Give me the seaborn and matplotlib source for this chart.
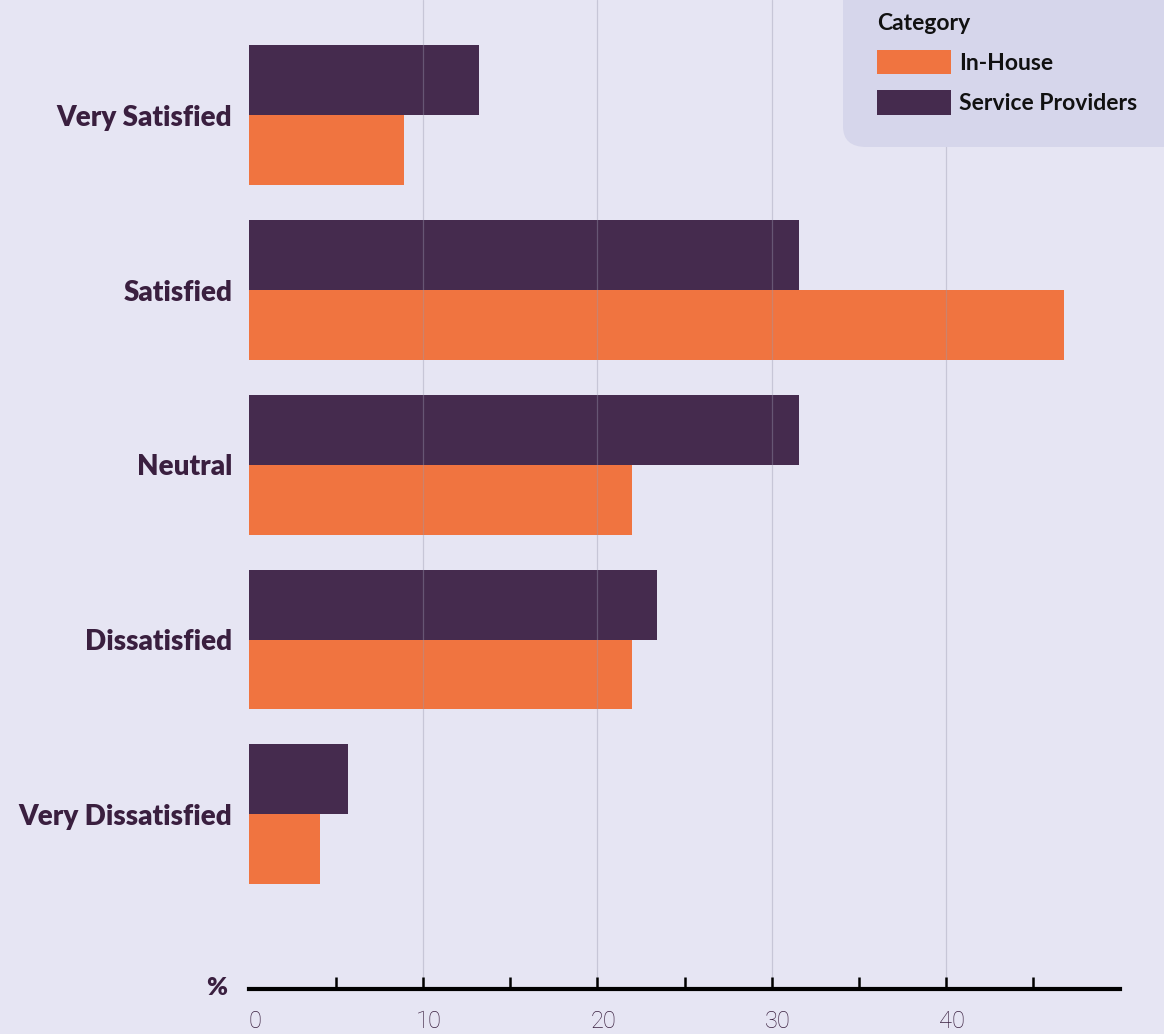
import matplotlib
matplotlib.use("Agg")
import matplotlib.pyplot as plt
from matplotlib.patches import FancyBboxPatch, Patch
from matplotlib.transforms import ScaledTranslation
import pandas as pd
import seaborn as sns

# Satisfaction levels and shares (%) for each group
levels = ["Very Satisfied", "Satisfied", "Neutral", "Dissatisfied", "Very Dissatisfied"]
in_house = [8.9, 46.8, 22.0, 22.0, 4.1]
service_providers = [13.2, 31.6, 31.6, 23.4, 5.7]
groups = ["In-House", "Service Providers"]
x_ticks = [0, 10, 20, 30, 40]
x_minor = [5, 15, 25, 35, 45]

BG = "#E6E5F3"
ORANGE = "#F07440"
PURPLE = "#452B4E"
TEXT = "#3A1F3F"

df = pd.DataFrame({
    "Level": levels * 2,
    "Share": in_house + service_providers,
    "Category": [groups[0]] * len(levels) + [groups[1]] * len(levels),
})

sns.set_theme(style="white")
plt.rcParams["font.family"] = ["Lato", "DejaVu Sans"]

fig = plt.figure(figsize=(11.64, 10.34), dpi=100, facecolor=BG)
ax = fig.add_axes([249 / 1164, 45 / 1034, 871 / 1164, 989 / 1034])
ax.set_facecolor(BG)

sns.barplot(
    data=df, y="Level", x="Share", hue="Category",
    order=levels, hue_order=["Service Providers", "In-House"],
    palette={"In-House": ORANGE, "Service Providers": PURPLE},
    orient="h", width=0.8, saturation=1, ax=ax, legend=False,
    linewidth=0,
)

ax.set_xlim(0, 50)
ax.set_ylim(5.0, -0.66)
ax.set_xticks(x_ticks)
ax.set_xticks(x_minor, minor=True)
ax.set_xticklabels([str(v) for v in x_ticks], fontsize=17, fontweight="light",
                   color=TEXT, family=["Roboto", "DejaVu Sans"])
ax.tick_params(axis="x", which="both", direction="in", length=9, width=1.8,
               color="black", pad=15, bottom=True)
ax.tick_params(axis="y", length=0, pad=12)
for lbl in ax.get_yticklabels():
    lbl.set_fontsize(20)
    lbl.set_fontweight("heavy")
    lbl.set_color(TEXT)

# nudge the value labels a little to the right
shift = ScaledTranslation(6 / 100, 0, fig.dpi_scale_trans)
for lbl in ax.get_xticklabels():
    lbl.set_transform(lbl.get_transform() + shift)

ax.grid(axis="x", which="major", color="#9A98AE", alpha=0.4, linewidth=0.9, zorder=5)
ax.set_axisbelow(False)
first = ax.xaxis.get_major_ticks()[0]
first.tick1line.set_visible(False)
first.gridline.set_visible(False)

for s in ["top", "right", "left"]:
    ax.spines[s].set_visible(False)
ax.spines["bottom"].set_color("black")
ax.spines["bottom"].set_linewidth(3)
ax.set_xlabel("")
ax.set_ylabel("")

fig.text(217 / 1164, 1 - 988 / 1034, "%", ha="center", va="center",
         fontsize=18, fontweight="heavy", color=TEXT)

# Legend box with rounded corners, running off the top-right edge
box = FancyBboxPatch((843 / 1164, 1 - 147 / 1034), 0.32, 0.2,
                     boxstyle="round,pad=0,rounding_size=0.02",
                     transform=fig.transFigure, facecolor="#D6D6EB",
                     edgecolor="none", zorder=10)
fig.patches.append(box)

handles = [Patch(facecolor=ORANGE, edgecolor="none", label="In-House"),
           Patch(facecolor=PURPLE, edgecolor="none", label="Service Providers")]
leg = fig.legend(handles=handles, title="Category", loc="upper left",
                 bbox_to_anchor=(868 / 1164, 1 - 4 / 1034), frameon=False,
                 fontsize=16.5, title_fontsize=16.5, handlelength=3.2,
                 handleheight=1.25, handletextpad=0.38, labelspacing=0.7,
                 alignment="left", borderaxespad=0)
leg.set_zorder(11)
leg.get_title().set_fontweight("bold")
leg.get_title().set_color("#111111")
for t in leg.get_texts():
    t.set_fontweight("bold")
    t.set_color("#111111")

fig.savefig("out.png", dpi=100, facecolor=BG)
